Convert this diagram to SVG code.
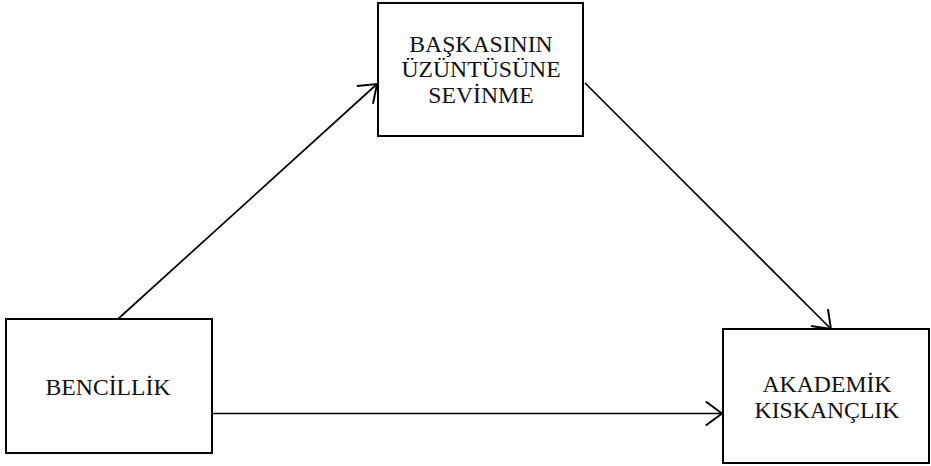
<svg xmlns="http://www.w3.org/2000/svg" width="931" height="466" viewBox="0 0 931 466">
<style>
.box{fill:#fff;stroke:#000;stroke-width:2}
.lbl{font-family:"Liberation Serif","Times New Roman",serif;font-size:23.7px;fill:#111;text-anchor:middle}
.edge{fill:none;stroke:#000;stroke-width:1.7}
</style>
<defs>
<marker id="arr" markerUnits="userSpaceOnUse" markerWidth="24" markerHeight="26" refX="16" refY="12" orient="auto" viewBox="0 0 20 24">
<path d="M1,1 L16,12 L1,23" fill="none" stroke="#000" stroke-width="1.8"/>
</marker>
</defs>
<rect width="931" height="466" fill="#fff"/>
<g id="connectors">
<line class="edge" x1="118" y1="319" x2="377" y2="84" marker-end="url(#arr)"/>
<line class="edge" x1="585" y1="83" x2="831" y2="329" marker-end="url(#arr)"/>
<line class="edge" x1="212" y1="413.5" x2="722" y2="413.5" marker-end="url(#arr)"/>
</g>
<g id="baskasinin">
<rect class="box" x="378" y="3" width="205" height="133"/>
<text class="lbl" x="481" y="52">BAŞKASININ</text>
<text class="lbl" x="481" y="77">ÜZÜNTÜSÜNE</text>
<text class="lbl" x="481" y="103">SEVİNME</text>
</g>
<g id="bencillik">
<rect class="box" x="6" y="319" width="206" height="134"/>
<text class="lbl" x="108" y="395">BENCİLLİK</text>
</g>
<g id="akademik">
<rect class="box" x="723" y="329" width="206" height="134"/>
<text class="lbl" x="827" y="392">AKADEMİK</text>
<text class="lbl" x="827" y="418">KISKANÇLIK</text>
</g>
</svg>
